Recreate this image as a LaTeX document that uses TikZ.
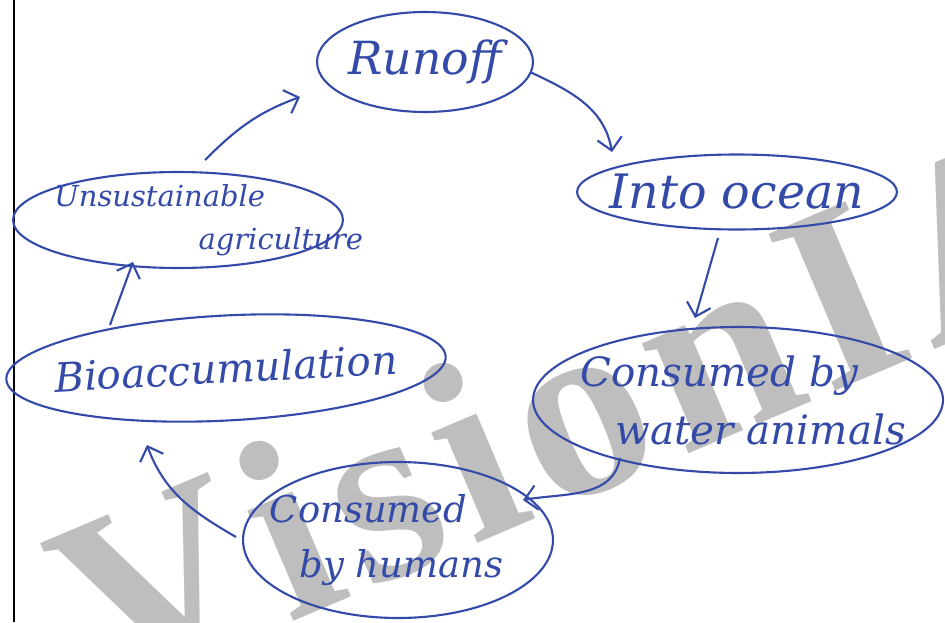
\documentclass[tikz,border=0pt]{standalone}
\usepackage{fontspec}
\setmainfont{DejaVu Serif}
\newfontfamily\wmfont{Liberation Serif}
\usetikzlibrary{arrows.meta,calc,shapes.geometric}
\definecolor{ink}{RGB}{52,74,168}
\definecolor{wm}{RGB}{190,190,190}
\begin{document}
\begin{tikzpicture}[x=0.02cm,y=0.02cm,
  bub/.style={ellipse, draw=ink, line width=1.2pt, text=ink, inner xsep=-6cm, inner ysep=-4cm, align=left},
  arr/.style={draw=ink, line width=1.2pt, -{Straight Barb[length=7pt,width=14pt]}},
  hand/.style={font=\itshape\fontsize{#1}{#1}\selectfont}
]
\useasboundingbox (0,0) rectangle (945,-622);
\fill[white] (0,0) rectangle (945,-622);
\begin{scope}
  \clip (0,0) rectangle (945,-622);
  \node[anchor=base west, rotate=23, inner sep=0pt, text=wm,
        font=\wmfont\bfseries\fontsize{148}{148}\selectfont] (wmark) at (104,-702)
        {V\kern7.4pt i\kern7.4pt s\kern7.4pt i\kern7.4pt o\kern7.4pt n\kern7.4pt I\kern7.4pt A\kern7.4pt S};
\end{scope}
\draw[black, line width=1.1pt] (14,0) -- (14,-622);

\node[bub, minimum width=4.32cm, minimum height=2cm, hand=26] (runoff) at (425,-62) {Runoff};
\node[bub, minimum width=6.4cm, minimum height=1.5cm, hand=27] (ocean) at (737,-192) {Into ocean};
\node[bub, minimum width=8.2cm, minimum height=2.92cm, font=\itshape\fontsize{23}{33}\selectfont] (water) at (738,-400)
  {Consumed by\\\hspace*{20pt}water animals\hspace*{-6pt}};
\node[bub, minimum width=6.2cm, minimum height=3.12cm, font=\itshape\fontsize{21}{31}\selectfont] (humans) at (398,-540)
  {Consumed\\\hspace*{17pt}by humans\hspace*{13pt}};
\node[bub, minimum width=8.8cm, minimum height=2.1cm, rotate=3, hand=23] (bio) at (226,-368) {Bioaccumulation};
\node[bub, minimum width=6.6cm, minimum height=1.92cm, font=\itshape\fontsize{16.5}{24.5}\selectfont] (unsus) at (178,-220)
  {Unsustainable\\\hspace*{82pt}agriculture\hspace*{-35pt}};

\draw[arr] ($(runoff)+(105,-10)$) to[out=-25,in=100] ($(ocean)+(-125,40)$);
\draw[arr] ($(ocean)+(-19,-46)$) -- ($(water)+(-43,82)$);
\draw[arr] ($(water)+(-118,-58)$) to[out=-100,in=10] ($(humans)+(125,40)$);
\draw[arr] ($(humans)+(-162,3)$) to[out=150,in=-70] ($(bio)+(-79,-77)$);
\draw[arr] ($(bio)+(-116,43)$) -- ($(unsus)+(-45,-42)$);
\draw[arr] ($(unsus)+(27,60)$) to[out=45,in=200] ($(runoff)+(-125,-35)$);
\end{tikzpicture}
\end{document}
